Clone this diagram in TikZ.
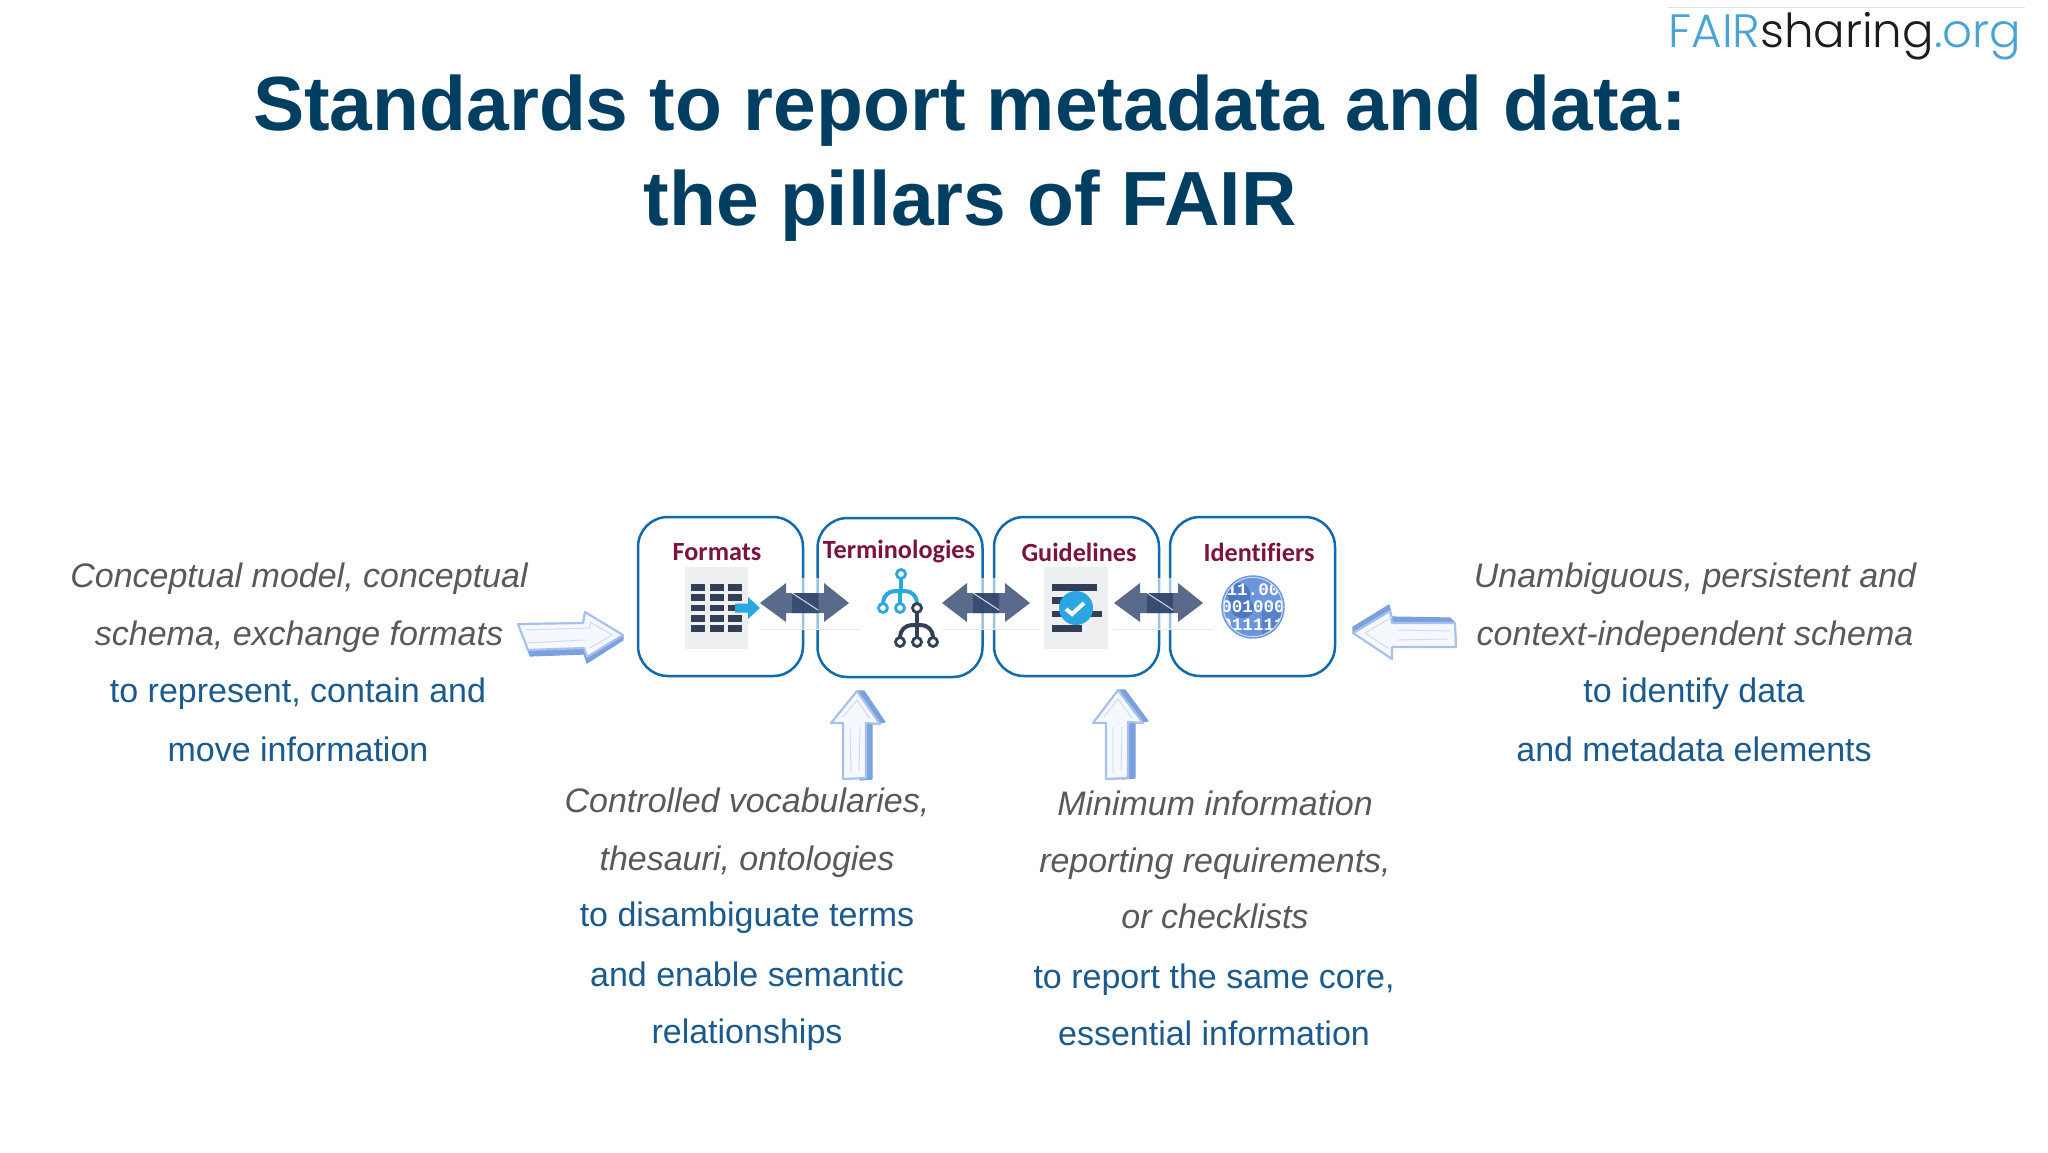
\documentclass[tikz,border=0pt]{standalone}
\usepackage{fontspec}
\setmainfont{Liberation Sans}
\newfontfamily\boxfont[Ligatures=NoCommon]{Carlito}
\newfontfamily\logofont{Poppins Light}
\newfontfamily\binfont{Liberation Mono}
\definecolor{titleblue}{HTML}{003E62}
\definecolor{grayt}{HTML}{595959}
\definecolor{bluet}{HTML}{1A5A8E}
\definecolor{wine}{HTML}{7A1242}
\definecolor{boxline}{HTML}{0F6BAE}
\definecolor{iconbg}{HTML}{EDEFF1}
\definecolor{icondark}{HTML}{333F56}
\definecolor{iconblue}{HTML}{2AA7E0}
\definecolor{dbl}{HTML}{31456F}
\definecolor{logoblue}{HTML}{4AA3D5}
\definecolor{logoblack}{HTML}{1C1C1C}
\definecolor{sideblue}{HTML}{7BA0DE}
\definecolor{edgeblue}{HTML}{A8C0EC}
\definecolor{bodywhite}{HTML}{F5F8FD}
\definecolor{globe}{HTML}{6C96DC}
\definecolor{globedark}{HTML}{4F78C2}
\tikzset{
  x=0.5pt,y=-0.5pt,
  titletext/.style={font=\fontsize{38.4}{40}\selectfont\bfseries,text=titleblue,anchor=base},
  greytext/.style={font=\fontsize{17}{20}\selectfont\itshape,text=grayt,anchor=base},
  bluetext/.style={font=\fontsize{17}{20}\selectfont,text=bluet,anchor=base},
  pillar/.style={draw=boxline,line width=1.25pt,rounded corners=15pt,fill=none,minimum width=82.5pt,minimum height=79.5pt,inner sep=0pt},
  pillarlabel/.style={font=\boxfont\fontsize{13.1}{15}\selectfont\bfseries,text=wine,inner sep=0pt},
  dblarrow/.style={fill=dbl,fill opacity=.8},
  sidefill/.style={fill=sideblue,draw=sideblue,line width=.6pt,line join=round},
  bodyfill/.style={fill=bodywhite,draw=edgeblue,line width=1.1pt,line join=round},
  innerline/.style={draw=edgeblue!55,line width=.5pt,line join=round},
  bluetree/.style={draw=iconblue,line width=1.4pt,fill=white},
  darktree/.style={draw=icondark,line width=1.4pt,fill=white},
  bintext/.style={font=\binfont\fontsize{8.8}{9}\selectfont\bfseries,text=white,inner sep=0pt},
}
\begin{document}
\begin{tikzpicture}
\path[use as bounding box,fill=white] (0,0) rectangle (2048,1152);
% logo
\draw[black!12,line width=.5pt] (1668,7) -- (2025,7);
\node[anchor=base west,inner sep=0pt,font=\logofont\fontsize{23.4}{26}\selectfont] (logo) at (1668,47)
  {\textcolor{logoblue}{FAIR}\textcolor{logoblack}{sharing}\textcolor{logoblue}{.org}};
% title
\node[titletext] (t1) at (970,130) {Standards to report metadata and data:};
\node[titletext] (t2) at (970,225) {the pillars of FAIR};
% icon backgrounds
\fill[iconbg] (685,567) rectangle (748,649);
\fill[iconbg] (1044,567) rectangle (1108,649);
% pillars
\node[pillar] (formats) at (720.5,596.5) {};
\node[pillar] (terms) at (900,597.5) {};
\node[pillar] (guides) at (1076.5,596.5) {};
\node[pillar] (idents) at (1252.5,596.5) {};
\node[pillarlabel] (lf) at (717,552) {Formats};
\node[pillarlabel] (lt) at (899,552) {Terminologies};
\node[pillarlabel] (lg) at (1079,552) {Guidelines};
\node[pillarlabel] (li) at (1259,552) {Identifiers};
% formats icon
\foreach \xa/\xb in {691/705,710/724,728/742}
  \foreach \ya/\yb in {584/591,594/601,605/611,615/622,625/632}
    \fill[icondark] (\xa,\ya) rectangle (\xb,\yb);
\fill[iconblue] (735,603.5) -- (748,603.5) -- (748,597) -- (760,608) -- (748,619) -- (748,612.5) -- (735,612.5) -- cycle;
% terminologies icon
\draw[iconblue,line width=2pt,rounded corners=6pt] (883,608) -- (883,591) -- (917,591) -- (917,608);
\draw[iconblue,line width=2pt] (901,574) -- (901,591) (900,591) -- (900,608);
\draw[bluetree] (901,574) circle [radius=4.5];
\draw[bluetree] (883,608) circle [radius=4.5];
\draw[bluetree] (900,608) circle [radius=4.5];
\draw[icondark,line width=2pt,rounded corners=6pt] (900,642) -- (900,625) -- (933,625) -- (933,642);
\draw[icondark,line width=2pt] (917,608) -- (917,642);
\draw[darktree] (917,608) circle [radius=4.5];
\draw[darktree] (900,642) circle [radius=4.5];
\draw[darktree] (917,642) circle [radius=4.5];
\draw[darktree] (933,642) circle [radius=4.5];
% guidelines icon
\fill[icondark] (1052,584) rectangle (1097,591);
\fill[icondark] (1052,597) rectangle (1085,604);
\fill[icondark] (1052,611) rectangle (1102,617);
\fill[icondark] (1052,625) rectangle (1082,632);
\fill[iconblue] (1076,608) circle [radius=17];
\draw[white,line width=2pt] (1066,609) -- (1072,614) -- (1084,603);
% identifiers icon
\begin{scope}
\clip (1253,607) circle [radius=31];
\fill[globe] (1222,576) rectangle (1284,638);
\fill[globedark] (1226,590) .. controls (1240,575) and (1252,585) .. (1250,600) .. controls (1262,615) and (1240,625) .. (1232,612) -- cycle;
\fill[globedark!70!globe] (1262,605) .. controls (1275,600) and (1285,610) .. (1280,625) -- (1262,635) -- cycle;
\node[bintext] (b1) at (1253,590) {11.00};
\node[bintext] (b2) at (1253,607) {001000};
\node[bintext] (b3) at (1253,625) {011111};
\end{scope}
\draw[white!65!globe,line width=.8pt] (1253,607) circle [radius=30];
\draw[globe,line width=.7pt] (1253,607) circle [radius=31];
% double arrows, each between two neighbouring pillars
\foreach \t/\b/\c/\d/\e/\f/\r in {760/786/792/818/824/849/860, 942/967/973/999/1005/1030/1040, 1114/1140/1147/1173/1178/1203/1213}{
  \fill[white,opacity=.6] (\t,578) rectangle (\r,629);
  \draw[black!9,line width=.4pt] (\t,629) -- (\r,629);
  \fill[dblarrow] (\t,603) -- (\b,583) -- (\b,593) -- (\d,593) -- (\d,613) -- (\b,613) -- (\b,622) -- cycle;
  \fill[dblarrow] (\f,603) -- (\e,583) -- (\e,593) -- (\c,593) -- (\c,613) -- (\e,613) -- (\e,622) -- cycle;
  \draw[white!80!dbl,line width=.5pt] (\c,593) -- (\d,610);
}
% sketched arrows
\fill[sidefill] (518,624) -- (528,650) -- (530,656) -- (584,654) -- (587,663) -- (623,640) -- (623,635) -- cycle;
\path[bodyfill] (518,624) -- (583,623) -- (585,612) -- (623,635) -- (587,657) -- (584,648) -- (528,650) -- cycle;
\path[innerline] (526,630) -- (590,628) -- (590,622) -- (612,635) -- (590,648) (526,643) -- (585,640);
%
\fill[sidefill] (857,691) -- (864,691) -- (885,722) -- (872,724) -- (872,779) -- (860,780) -- cycle;
\path[bodyfill] (857,691) -- (880,724) -- (866,723) -- (866,778) -- (843,779) -- (843,723) -- (831,723) -- cycle;
\path[innerline] (857,700) -- (870,719) (857,700) -- (843,717) (850,727) -- (851,773) (860,727) -- (859,770);
\fill[sidefill] (1118,690) -- (1125,690) -- (1148,721) -- (1135,723) -- (1135,778) -- (1122,779) -- cycle;
\path[bodyfill] (1118,690) -- (1143,723) -- (1128,722) -- (1128,778) -- (1106,779) -- (1106,723) -- (1093,723) -- cycle;
\path[innerline] (1118,699) -- (1132,718) (1118,699) -- (1104,717) (1113,727) -- (1113,773) (1122,727) -- (1121,770);
%
\fill[sidefill] (1353,633) -- (1353,627) -- (1389,605) -- (1392,617) -- (1450,618) -- (1455,623) -- (1392,630) -- cycle;
\path[bodyfill] (1353,633) -- (1390,611) -- (1392,623) -- (1455,623) -- (1456,647) -- (1392,647) -- (1392,659) -- cycle;
\path[innerline] (1365,633) -- (1392,617) (1365,633) -- (1388,648) (1398,630) -- (1450,631) (1398,640) -- (1448,639);
% left text
\node[greytext] (a1) at (299,587) {Conceptual model, conceptual};
\node[greytext] (a2) at (299,645) {schema, exchange formats};
\node[bluetext] (a3) at (298,702) {to represent, contain and};
\node[bluetext] (a4) at (298,761) {move information};
% middle left text
\node[greytext] (b1t) at (747,812) {Controlled vocabularies,};
\node[greytext] (b2t) at (747,870) {thesauri, ontologies};
\node[bluetext] (b3t) at (747,926) {to disambiguate terms};
\node[bluetext] (b4t) at (747,986) {and enable semantic};
\node[bluetext] (b5t) at (747,1043) {relationships};
% middle right text
\node[greytext] (c1) at (1215,815) {Minimum information};
\node[greytext] (c2) at (1215,872) {reporting requirements,};
\node[greytext] (c3) at (1215,928) {or checklists};
\node[bluetext] (c4) at (1214,988) {to report the same core,};
\node[bluetext] (c5) at (1214,1045) {essential information};
% right text
\node[greytext] (d1) at (1695,587) {Unambiguous, persistent and};
\node[greytext] (d2) at (1695,645) {context-independent schema};
\node[bluetext] (d3) at (1694,702) {to identify data};
\node[bluetext] (d4) at (1694,761) {and metadata elements};
\end{tikzpicture}
\end{document}
